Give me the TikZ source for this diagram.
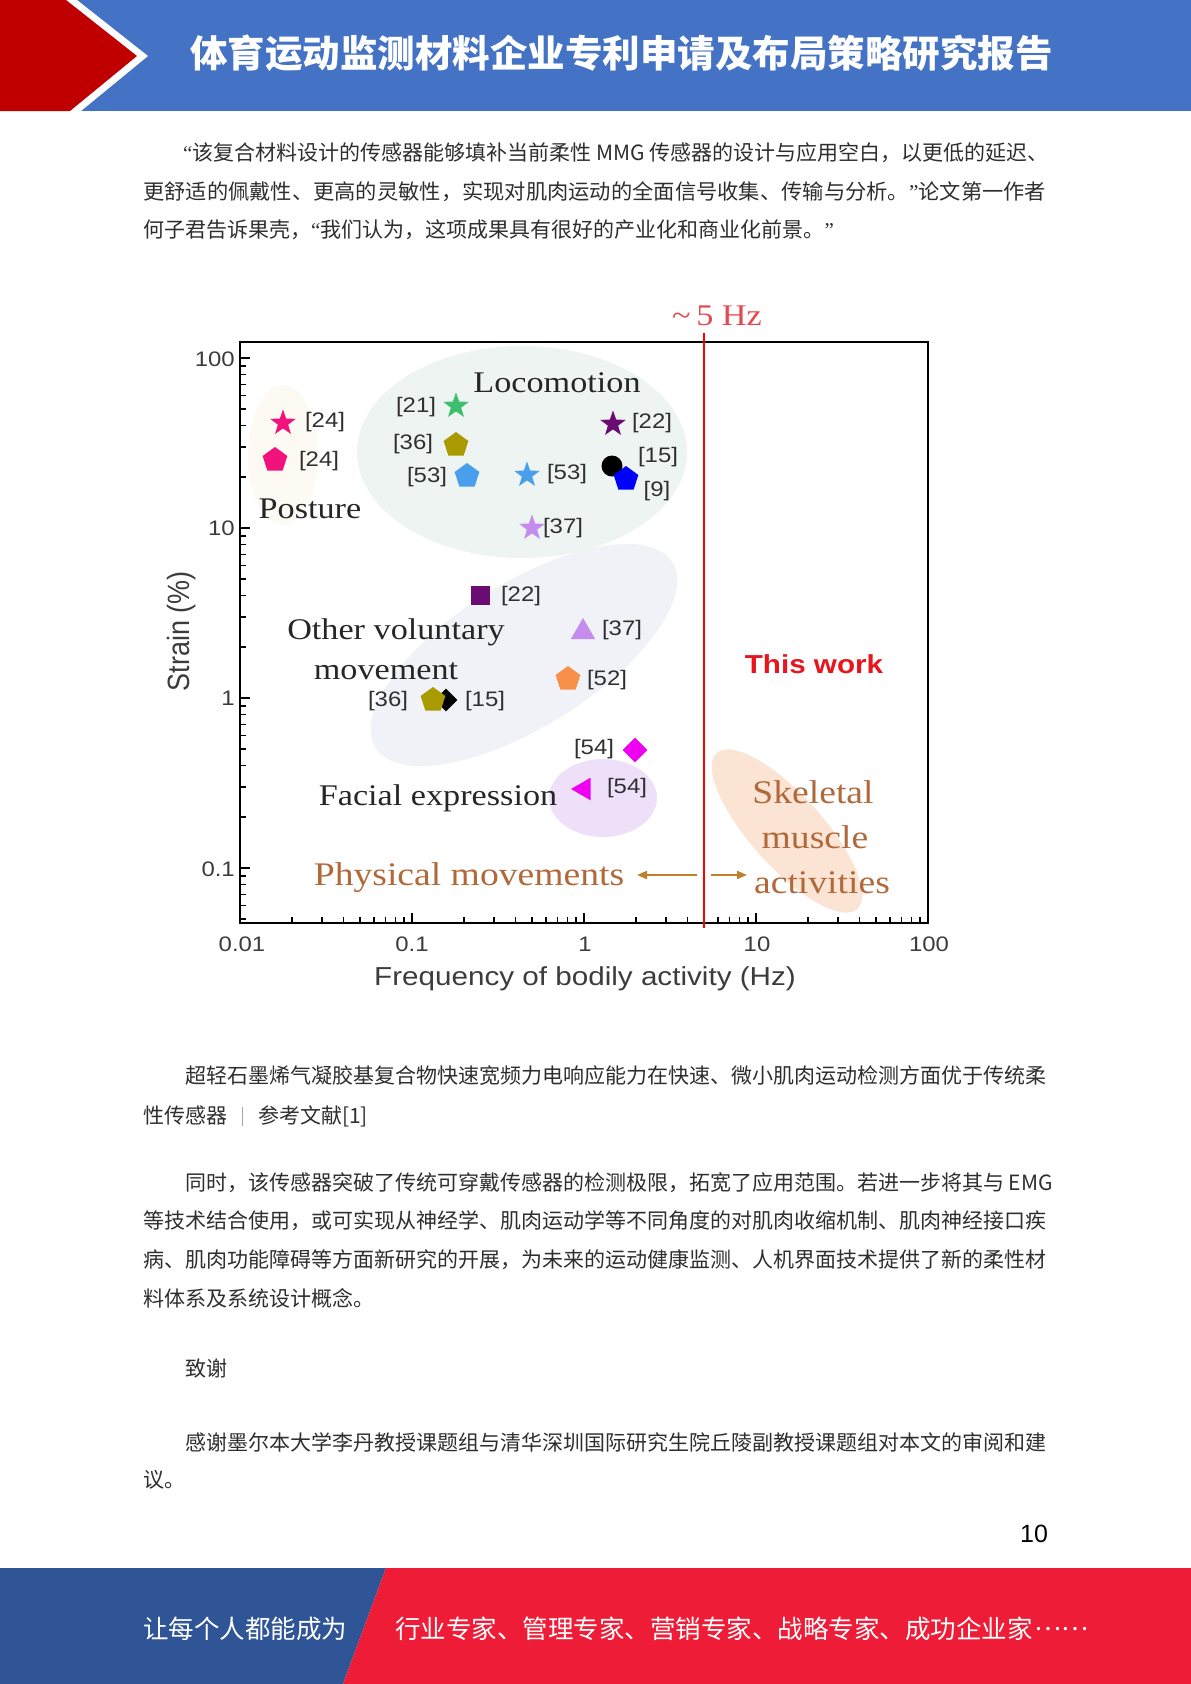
\documentclass[tikz,border=0pt]{standalone}
\usepackage{fontspec}
\usepackage{graphicx}
\usetikzlibrary{shapes.geometric,arrows.meta}
\setmainfont{Liberation Serif}
\newfontfamily\cjk{Noto Sans CJK SC}
\newfontfamily\arialf{Liberation Sans}
\newfontfamily\timesf{Liberation Serif}
\definecolor{hdrblue}{HTML}{4472C4}
\definecolor{hdrred}{HTML}{C00000}
\definecolor{footblue}{HTML}{2F5597}
\definecolor{footred}{HTML}{EE1C36}
\definecolor{bodyc}{HTML}{2E2E2E}
\definecolor{lococ}{HTML}{EDF4F1}
\definecolor{othc}{HTML}{F0F2F8}
\definecolor{facec}{HTML}{EDE0F8}
\definecolor{skelc}{HTML}{FBE4D4}
\definecolor{postc}{HTML}{FDF9F3}
\definecolor{pinkc}{HTML}{F2127C}
\definecolor{greenc}{HTML}{3DBF6D}
\definecolor{olivec}{HTML}{A99A00}
\definecolor{lbluec}{HTML}{4A9FEC}
\definecolor{purpc}{HTML}{6B0C72}
\definecolor{lilacc}{HTML}{C48CEE}
\definecolor{orangec}{HTML}{F89049}
\definecolor{magc}{HTML}{F000F0}
\definecolor{brownc}{HTML}{B0693A}
\definecolor{arrowc}{HTML}{C07F2D}
\definecolor{redhz}{HTML}{E5484F}
\definecolor{thiswc}{HTML}{E8141E}
\definecolor{tickc}{HTML}{3C3C3C}
\definecolor{lblc}{HTML}{303030}
\newcommand\sx[1]{\scalebox{1.14}[1]{#1}}
\newcommand\myoq{{\timesf “}}
\newcommand\mycq{{\timesf ”}}
\tikzset{
  tk/.style={line width=1.5pt, black},
  ticklbl/.style={font=\arialf\fontsize{21}{21}\selectfont, text=tickc, inner sep=0},
  reflbl/.style={font=\arialf\fontsize{21}{21}\selectfont, text=lblc, inner sep=0},
  serlbl/.style={font=\timesf\fontsize{30}{30}\selectfont, text=black!85, inner sep=0, anchor=base},
  brnlbl/.style={font=\timesf\fontsize{33}{33}\selectfont, text=brownc, inner sep=0, anchor=base},
  mk/.style={inner sep=0, draw=none},
  starmk/.style={mk, star, star points=5, star point ratio=2.5, minimum size=27},
  pentmk/.style={mk, regular polygon, regular polygon sides=5, minimum size=26},
  body/.style={font=\cjk\fontsize{21}{21}\selectfont, text=bodyc, inner sep=0, anchor=west},
  foot/.style={font=\cjk\fontsize{25.5}{26}\selectfont, text=white, inner sep=0, anchor=west},
  arr/.style={line width=2pt, arrowc, -{Triangle[length=10pt,width=8pt]}},
}
\begin{document}
\begin{tikzpicture}[x=1pt,y=-1pt]
\useasboundingbox (0,0) rectangle (1191,1684);
% header
\fill[hdrblue] (0,0) rectangle (1191,111);
\fill[white] (0,0) -- (77,0) -- (148,56) -- (81,111) -- (0,111) -- cycle;
\fill[hdrred] (0,0) -- (66,0) -- (137,56) -- (70,111) -- (0,111) -- cycle;
\node[anchor=west, inner sep=0, text=white, font=\cjk\bfseries\fontsize{37.5}{40}\selectfont] (title) at (190,53) {体育运动监测材料企业专利申请及布局策略研究报告};
% paragraph 1
\node[body] (p1a) at (183,153) {\myoq 该复合材料设计的传感器能够填补当前柔性 MMG 传感器的设计与应用空白，以更低的延迟、};
\node[body] (p1b) at (143,192) {\resizebox{903pt}{\height}{更舒适的佩戴性、更高的灵敏性，实现对肌肉运动的全面信号收集、传输与分析。\mycq 论文第一作者}};
\node[body] (p1c) at (143,230) {何子君告诉果壳，\myoq 我们认为，这项成果具有很好的产业化和商业化前景。\mycq};
% chart backgrounds
\fill[postc] (283,455) ellipse [x radius=35, y radius=70];
\fill[lococ] (522,452) ellipse [x radius=165, y radius=106];
\fill[othc, rotate around={32:(524,655)}] (524,655) ellipse [x radius=175, y radius=72];
\fill[facec] (603,798) ellipse [x radius=54, y radius=39];
\fill[skelc, rotate around={-48:(787,831)}] (787,831) ellipse [x radius=105, y radius=36];
% frame and ticks
\draw[line width=2pt] (240,342) rectangle (928,923);
\foreach \xx in {412,584,756}{\draw[tk] (\xx,923) -- (\xx,913);}
\foreach \d in {-2,-1,0,1}{\foreach \m in {2,...,9}{\pgfmathsetmacro\xx{240+172*(\d+2+ln(\m)/ln(10))}\draw[tk] (\xx,923) -- (\xx,917);}}
\foreach \yy in {358,528,698,868}{\draw[tk] (240,\yy) -- (250,\yy);}
\foreach \d in {-1,0,1}{\foreach \m in {2,...,9}{\pgfmathsetmacro\yy{698-170*(\d+ln(\m)/ln(10))}\draw[tk] (240,\yy) -- (246,\yy);}}
\foreach \m in {5,...,9}{\pgfmathsetmacro\yy{698-170*(-2+ln(\m)/ln(10))}\draw[tk] (240,\yy) -- (246,\yy);}
% tick labels
\node[ticklbl, anchor=base] (x1) at (242,951) {\sx{0.01}};
\node[ticklbl, anchor=base] (x2) at (412,951) {\sx{0.1}};
\node[ticklbl, anchor=base] (x3) at (585,951) {\sx{1}};
\node[ticklbl, anchor=base] (x4) at (757,951) {\sx{10}};
\node[ticklbl, anchor=base] (x5) at (929,951) {\sx{100}};
\node[ticklbl, anchor=east] (y1) at (235,359) {\sx{100}};
\node[ticklbl, anchor=east] (y2) at (235,528) {\sx{10}};
\node[ticklbl, anchor=east] (y3) at (235,698) {\sx{1}};
\node[ticklbl, anchor=east] (y4) at (235,869) {\sx{0.1}};
\node[font=\arialf\fontsize{26}{26}\selectfont, text=tickc, inner sep=0, anchor=base] (xt) at (585,985) {\sx{Frequency of bodily activity (Hz)}};
\node[font=\arialf\fontsize{27}{27}\selectfont, text=tickc, inner sep=0, rotate=90] (yt) at (182,631) {\scalebox{1}[1.14]{Strain (\%)}};
% group labels
\node[serlbl] (loco) at (557,392) {\sx{Locomotion}};
\node[serlbl] (post) at (310,518) {\sx{Posture}};
\node[serlbl] (oth1) at (396,639) {\sx{Other voluntary}};
\node[serlbl] (oth2) at (386,679) {\sx{movement}};
\node[serlbl] (face) at (438,805) {\sx{Facial expression}};
\node[brnlbl] (phys) at (469,885) {\sx{Physical movements}};
\node[brnlbl] (sk1) at (813,803) {\sx{Skeletal}};
\node[brnlbl] (sk2) at (815,848) {\sx{muscle}};
\node[brnlbl] (sk3) at (822,893) {\sx{activities}};
\node[font=\arialf\bfseries\fontsize{26}{26}\selectfont, text=thiswc, inner sep=0, anchor=base] (tw) at (814,673) {\sx{This work}};
% markers
\node[starmk, fill=pinkc] (m1) at (283,423) {};
\node[reflbl] (l1) at (325,422) {\sx{[24]}};
\node[pentmk, fill=pinkc] (m2) at (275,460) {};
\node[reflbl] (l2) at (319,461) {\sx{[24]}};
\node[starmk, fill=greenc] (m3) at (456,406) {};
\node[reflbl] (l3) at (416,407) {\sx{[21]}};
\node[pentmk, fill=olivec] (m4) at (456,445) {};
\node[reflbl] (l4) at (413,444) {\sx{[36]}};
\node[pentmk, fill=lbluec] (m5) at (467,476) {};
\node[reflbl] (l5) at (427,477) {\sx{[53]}};
\node[starmk, fill=lbluec] (m6) at (527,475) {};
\node[reflbl] (l6) at (567,474) {\sx{[53]}};
\node[starmk, fill=purpc] (m7) at (613,424) {};
\node[reflbl] (l7) at (652,423) {\sx{[22]}};
\node[mk, circle, fill=black, minimum size=21] (m8) at (612,466) {};
\node[pentmk, fill=blue] (m9) at (626,479) {};
\node[reflbl] (l8) at (658,457) {\sx{[15]}};
\node[reflbl] (l9) at (657,491) {\sx{[9]}};
\node[starmk, fill=lilacc] (m10) at (532,528) {};
\node[reflbl] (l10) at (563,528) {\sx{[37]}};
\node[mk, rectangle, fill=purpc, minimum size=19] (m11) at (480,595) {};
\node[reflbl] (l11) at (521,596) {\sx{[22]}};
\node[mk, regular polygon, regular polygon sides=3, minimum size=28, fill=lilacc] (m12) at (583,632) {};
\node[reflbl] (l12) at (622,630) {\sx{[37]}};
\node[pentmk, fill=orangec] (m13) at (568,679) {};
\node[reflbl] (l13) at (607,680) {\sx{[52]}};
\node[mk, diamond, fill=black, minimum width=23, minimum height=23] (m14) at (446,700) {};
\node[pentmk, fill=olivec] (m15) at (433,700) {};
\node[reflbl] (l14) at (388,701) {\sx{[36]}};
\node[reflbl] (l15) at (485,701) {\sx{[15]}};
\node[mk, diamond, fill=magc, minimum width=25, minimum height=25] (m16) at (635,750) {};
\node[reflbl] (l16) at (594,749) {\sx{[54]}};
\node[mk, regular polygon, regular polygon sides=3, shape border rotate=90, minimum size=26, fill=magc] (m17) at (584,789) {};
\node[reflbl] (l17) at (627,788) {\sx{[54]}};
% arrows
\coordinate (a1s) at (697,875);
\coordinate (a1e) at (637,875);
\coordinate (a2s) at (711,875);
\coordinate (a2e) at (747,875);
\draw[arr] (a1s) -- (a1e);
\draw[arr] (a2s) -- (a2e);
% 5 Hz line
\coordinate (rtop) at (704,333);
\coordinate (rbot) at (704,928);
\draw[red, line width=2.6pt] (rtop) -- (rbot);
\node[font=\timesf\fontsize{30}{30}\selectfont, text=redhz, inner sep=0, anchor=base] (hz) at (717,325) {\sx{\textasciitilde\,5 Hz}};
% caption
\node[body] (c1) at (185,1076) {超轻石墨烯气凝胶基复合物快速宽频力电响应能力在快速、微小肌肉运动检测方面优于传统柔};
\node[body] (c2) at (143,1116) {性传感器\hspace{15pt}{\color{black!35}\rule[-3pt]{0.8pt}{19pt}}\hspace{15pt}参考文献[1]};
% paragraph 3
\node[body] (p3a) at (185,1183) {同时，该传感器突破了传统可穿戴传感器的检测极限，拓宽了应用范围。若进一步将其与 EMG};
\node[body] (p3b) at (143,1221) {等技术结合使用，或可实现从神经学、肌肉运动学等不同角度的对肌肉收缩机制、肌肉神经接口疾};
\node[body] (p3c) at (143,1260) {病、肌肉功能障碍等方面新研究的开展，为未来的运动健康监测、人机界面技术提供了新的柔性材};
\node[body] (p3d) at (143,1298) {料体系及系统设计概念。};
\node[body] (zx) at (185,1369) {致谢};
\node[body] (g1) at (185,1442) {感谢墨尔本大学李丹教授课题组与清华深圳国际研究生院丘陵副教授课题组对本文的审阅和建};
\node[body] (g2) at (143,1480) {议。};
\node[font=\arialf\fontsize{25}{25}\selectfont, text=black, inner sep=0] (pg) at (1034,1534) {10};
% footer
\fill[footblue] (0,1568) -- (386,1568) -- (343,1684) -- (0,1684) -- cycle;
\fill[footred] (386,1568) -- (1191,1568) -- (1191,1684) -- (343,1684) -- cycle;
\node[foot] (f1) at (143,1629) {让每个人都能成为};
\node[foot] (f2) at (395,1629) {行业专家、管理专家、营销专家、战略专家、成功企业家\hspace{2pt}\raisebox{0.32em}{……}};
\end{tikzpicture}
\end{document}
